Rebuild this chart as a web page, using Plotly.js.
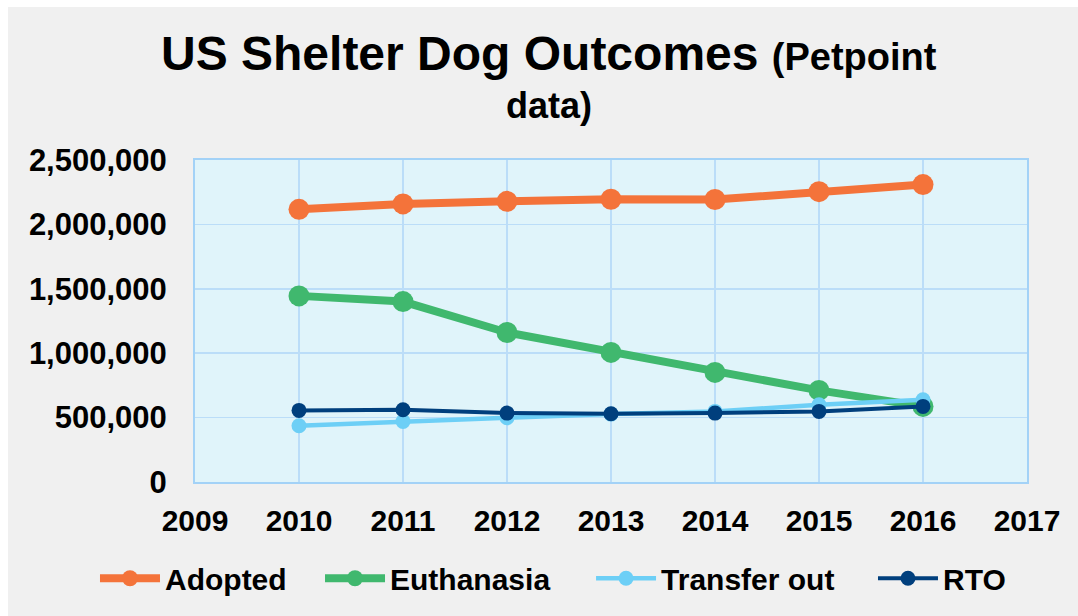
<!DOCTYPE html>
<html>
<head>
<meta charset="utf-8">
<script src="https://cdn.plot.ly/plotly-3.0.1.min.js"></script>
<style>
  html, body { margin: 0; padding: 0; background: #ffffff; }
  #chart { position: absolute; left: 8px; top: 7px; width: 1070px; height: 609px; }
</style>
</head>
<body>
<div id="chart"></div>
<script>
const years = [2010, 2011, 2012, 2013, 2014, 2015, 2016];
const adopted = [2117000, 2159000, 2179000, 2195000, 2193000, 2254000, 2309000];
const euthanasia = [1445000, 1401000, 1161000, 1006000, 851000, 711000, 587000];
const transferOut = [437000, 470000, 499000, 527000, 548000, 600000, 639000];
const rto = [556000, 561000, 535000, 530000, 535000, 548000, 587000];
const seriesNames = ['Adopted', 'Euthanasia', 'Transfer out', 'RTO'];
const titleMain = 'US Shelter Dog Outcomes';
const titleSub1 = '(Petpoint';
const titleSub2 = 'data)';

const FONT = '"Liberation Sans", Arial, sans-serif';

const traces = [
  {x: years, y: adopted, name: seriesNames[0], color: '#F4733A', lw: 8, ms: 21, lg: 'legend'},
  {x: years, y: euthanasia, name: seriesNames[1], color: '#40B86E', lw: 8, ms: 21, lg: 'legend2'},
  {x: years, y: transferOut, name: seriesNames[2], color: '#6DCFF6', lw: 4.5, ms: 15, lg: 'legend3'},
  {x: years, y: rto, name: seriesNames[3], color: '#003F7D', lw: 4, ms: 15, lg: 'legend4'}
].map(t => ({
  type: 'scatter', mode: 'lines+markers', x: t.x, y: t.y, name: t.name,
  line: {color: t.color, width: t.lw},
  marker: {color: t.color, size: t.ms},
  legend: t.lg,
  cliponaxis: false
}));

function legendAt(x) {
  return {
    orientation: 'h', xref: 'container', yref: 'container',
    x: x, xanchor: 'left', y: 0.062, yanchor: 'middle',
    font: {family: FONT, size: 30, color: '#000000', weight: 'bold'},
    itemwidth: 60, bgcolor: 'rgba(0,0,0,0)', borderwidth: 0
  };
}

const layout = {
  width: 1070, height: 609,
  paper_bgcolor: '#F0F0F0',
  plot_bgcolor: '#E0F4FA',
  margin: {l: 187, r: 51, t: 153, b: 134, pad: 0},
  font: {family: FONT, color: '#000000'},
  showlegend: true,
  legend: legendAt(0.0813),
  legend2: legendAt(0.2916),
  legend3: legendAt(0.5449),
  legend4: legendAt(0.8084),
  xaxis: {
    range: [2009, 2017], tickmode: 'linear', tick0: 2009, dtick: 1,
    showgrid: true, gridcolor: '#BBDDF8', gridwidth: 1.5,
    showline: true, linecolor: '#A3D2F7', linewidth: 2, mirror: true,
    zeroline: false, ticks: '', ticklabelstandoff: 11,
    tickfont: {family: FONT, size: 30, color: '#000000', weight: 'bold'}
  },
  yaxis: {
    range: [0, 2500000], tickmode: 'linear', tick0: 0, dtick: 500000,
    tickformat: ',d',
    showgrid: true, gridcolor: '#BBDDF8', gridwidth: 1.5,
    showline: true, linecolor: '#A3D2F7', linewidth: 2, mirror: true,
    zeroline: false, ticks: '', ticklabelstandoff: 20,
    tickfont: {family: FONT, size: 31, color: '#000000', weight: 'bold'}
  },
  annotations: [
    {
      xref: 'paper', yref: 'paper', x: 0.425, y: 1.33, xanchor: 'center', yanchor: 'middle',
      showarrow: false,
      text: '<b>' + titleMain + ' <span style="font-size:38px">' + titleSub1 + '</span></b>',
      font: {family: FONT, size: 48, color: '#000000'}
    },
    {
      xref: 'paper', yref: 'paper', x: 0.425, y: 1.17, xanchor: 'center', yanchor: 'middle',
      showarrow: false,
      text: '<b>' + titleSub2 + '</b>',
      font: {family: FONT, size: 36, color: '#000000'}
    }
  ]
};

Plotly.newPlot('chart', traces, layout, {displayModeBar: false, staticPlot: true});
</script>
</body>
</html>
